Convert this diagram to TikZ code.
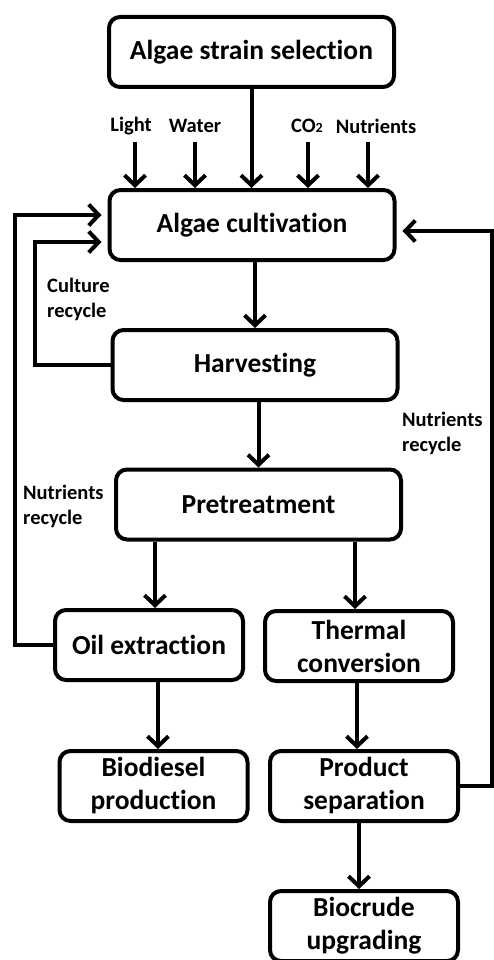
\documentclass[tikz,border=0pt]{standalone}
\usepackage{fontspec}
\setmainfont[Ligatures=NoCommon]{Carlito}
\usetikzlibrary{arrows.meta}
\begin{document}
\begin{tikzpicture}[x=1pt,y=-1pt,
  box/.style={draw, line width=4pt, rounded corners=11pt, inner sep=0pt, align=center, font=\bfseries\fontsize{27.5}{33}\selectfont},
  bigbox/.style={box, minimum width=285pt, minimum height=70pt},
  smallbox/.style={box, minimum width=188pt, minimum height=70pt},
  arr/.style={line width=4pt, -{Straight Barb[length=10pt, width=21pt, line width=4pt]}},
  lbl/.style={font=\bfseries\fontsize{20.5}{25}\selectfont, inner sep=0pt, align=left}]
\clip (0,0) rectangle (494,960);
\fill[white] (0,0) rectangle (494,960);
% boxes
\node[bigbox] (sel) at (251.5,52) {Algae strain selection};
\node[bigbox] (cult) at (252,225) {Algae cultivation};
\node[bigbox] (harv) at (255,365) {Harvesting};
\node[bigbox] (pre) at (258.5,504.5) {Pretreatment};
\node[smallbox] (oil) at (149,645) {Oil extraction};
\node[smallbox] (therm) at (359,646) {Thermal\\conversion};
\node[smallbox] (bio) at (153.5,786) {Biodiesel\\production};
\node[smallbox] (prod) at (364,786) {Product\\separation};
\node[smallbox] (crude) at (364,926) {Biocrude\\upgrading};
% input labels
\node[lbl] (light) at (131,126) {Light};
\node[lbl] (water) at (195,126) {Water};
\node[lbl] (co2) at (307,126) {CO{\fontsize{14}{14}\selectfont 2}};
\node[lbl] (nutr) at (376,126) {Nutrients};
\coordinate (a1) at (135,142);
\coordinate (a2) at (195,142);
\coordinate (a4) at (308,142);
\coordinate (a5) at (368,142);
\foreach \c in {a1,a2,a4,a5} \draw[arr] (\c) -- (cult.north -| \c);
\draw[arr] (sel.south) -- (cult.north -| sel.south);
% main flow
\draw[arr] (harv.north |- cult.south) -- (harv.north);
\draw[arr] (pre.north |- harv.south) -- (pre.north);
\coordinate (p1) at (155,0);
\coordinate (p2) at (355,0);
\draw[arr] (pre.south -| p1) -- (oil.north -| p1);
\draw[arr] (pre.south -| p2) -- (therm.north -| p2);
\coordinate (p3) at (158,0);
\coordinate (p4) at (357,0);
\draw[arr] (oil.south -| p3) -- (bio.north -| p3);
\draw[arr] (therm.south -| p4) -- (prod.north -| p4);
\coordinate (p5) at (359,0);
\draw[arr] (prod.south -| p5) -- (crude.north -| p5);
% recycle loops
\coordinate (L1) at (15,215);
\coordinate (L2) at (35,242);
\coordinate (R) at (492,231);
\draw[arr] (oil.west) -| (L1) -- ([xshift=-6pt]cult.west |- L1);
\draw[arr] (harv.west) -| (L2) -- ([xshift=-6pt]cult.west |- L2);
\draw[arr] (prod.east) -| (R) -- ([xshift=6pt]cult.east |- R);
% recycle labels
\node[lbl, anchor=west] (cr) at (47,299) {Culture\\recycle};
\node[lbl, anchor=west] (nl) at (23,506) {Nutrients\\recycle};
\node[lbl, anchor=west] (nr) at (402,433) {Nutrients\\recycle};
\end{tikzpicture}
\end{document}
